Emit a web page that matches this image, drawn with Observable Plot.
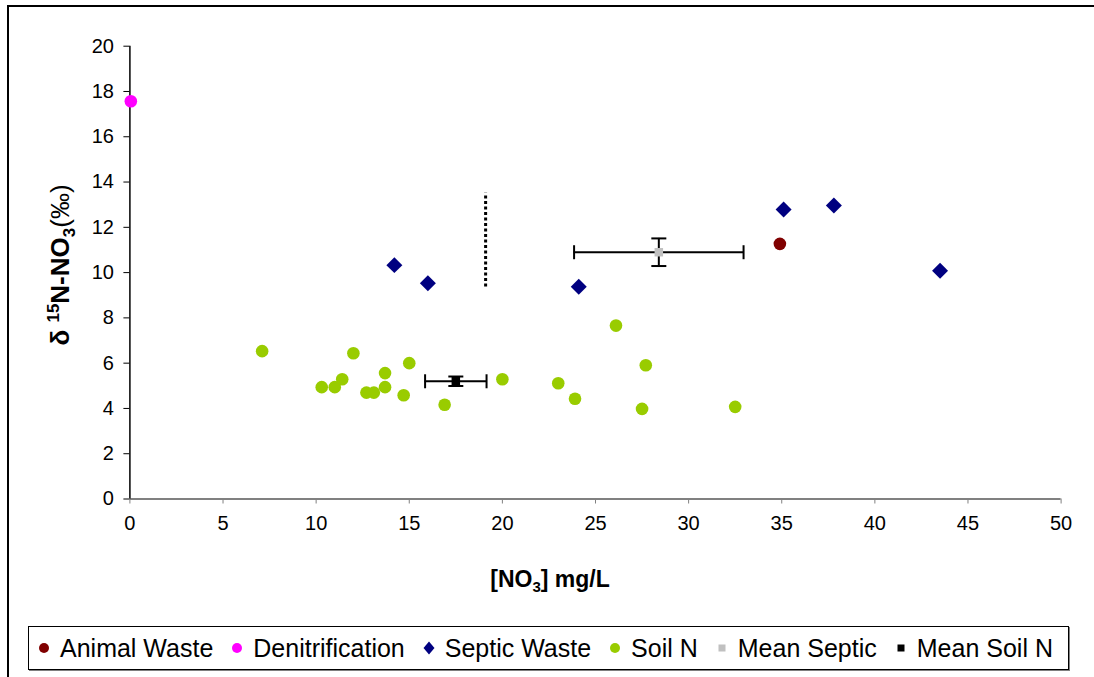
<!DOCTYPE html>
<html>
<head>
<meta charset="utf-8">
<script src="https://cdn.jsdelivr.net/npm/d3@7"></script>
<script src="https://cdn.jsdelivr.net/npm/@observablehq/plot@0.6"></script>
<style>
  html, body { margin: 0; padding: 0; background: #fff; overflow: hidden; }
  body { width: 1094px; height: 677px; position: relative; font-family: "Liberation Sans", Arial, sans-serif; }
  #frame { position: absolute; left: 7px; top: 5px; width: 1100px; height: 690px; border-left: 2px solid #000; border-top: 2px solid #000; }
  #chart { position: absolute; left: 0; top: 0; }
  #legend { position: absolute; left: 28px; top: 626px; width: 1041px; height: 44px; border: 1px solid #000; box-shadow: 1px 1px 0 #808080;
            display: flex; align-items: center; padding-left: 9px; box-sizing: border-box; font-size: 25px; color: #000; white-space: nowrap; }
  .item { display: flex; align-items: center; margin-right: 18px; }
  .item svg { margin-right: 10px; }
</style>
</head>
<body>
<div id="frame"></div>
<div id="chart"></div>
<div id="legend"></div>
<script>
// ---- data ----
const xTicks = [0, 5, 10, 15, 20, 25, 30, 35, 40, 45, 50];
const yTicks = [0, 2, 4, 6, 8, 10, 12, 14, 16, 18, 20];

const soilX = [7.1, 10.3, 11.0, 11.4, 12.0, 12.7, 13.1, 13.7, 13.7, 14.7, 15.0, 16.9, 20.0, 23.0, 23.9, 26.1, 27.7, 27.5, 32.5];
const soilY = [6.53, 4.94, 4.94, 5.29, 6.44, 4.70, 4.70, 5.56, 4.94, 4.58, 6.00, 4.16, 5.29, 5.11, 4.43, 7.66, 5.91, 3.98, 4.07];

const septicX = [14.2, 16.0, 24.1, 35.1, 37.8, 43.5];
const septicY = [10.33, 9.53, 9.37, 12.79, 12.96, 10.08];

const animalX = [34.9];
const animalY = [11.27];

const denitX = [0.05];
const denitY = [17.57];

const meanSepticX = [28.4], meanSepticY = [10.9], meanSepticXErr = [4.55], meanSepticYErr = [0.61];
const meanSoilX = [17.5], meanSoilY = [5.2], meanSoilXErr = [1.65], meanSoilYErr = [0.21];

const dividerX = [19.1], dividerY1 = [9.36], dividerY2 = [13.51];

const legendLabels = ["Animal Waste", "Denitrification", "Septic Waste", "Soil N", "Mean Septic", "Mean Soil N"];
const legendColors = ["#800000", "#ff00ff", "#000080", "#99cc00", "#c0c0c0", "#000000"];
const legendShapes = ["circle", "circle", "diamond", "circle", "square", "square"];

// ---- tables ----
const pts = (xs, ys) => xs.map((x, i) => ({x, y: ys[i]}));
const soil = pts(soilX, soilY);
const septic = pts(septicX, septicY);
const animal = pts(animalX, animalY);
const denit = pts(denitX, denitY);
const means = [
  ...meanSepticX.map((x, i) => ({x, y: meanSepticY[i], xe: meanSepticXErr[i], ye: meanSepticYErr[i], c: legendColors[4]})),
  ...meanSoilX.map((x, i) => ({x, y: meanSoilY[i], xe: meanSoilXErr[i], ye: meanSoilYErr[i], c: legendColors[5]}))
];
const divider = dividerX.map((x, i) => ({x, y1: dividerY1[i], y2: dividerY2[i]}));

const vbar = {draw(ctx) { ctx.moveTo(0, -7); ctx.lineTo(0, 7); }};
const hbar = {draw(ctx) { ctx.moveTo(-7.5, 0); ctx.lineTo(7.5, 0); }};

const W = 1094, H = 620;
const plot = Plot.plot({
  width: W, height: H,
  marginLeft: 129.4, marginRight: 33.4, marginTop: 45.7, marginBottom: H - 498.5,
  style: {fontFamily: '"Liberation Sans", Arial, sans-serif', background: "transparent", color: "#000", overflow: "visible"},
  x: {domain: [0, 50]},
  y: {domain: [0, 20]},
  marks: [
    Plot.axisX({ticks: xTicks, tickSize: 5, tickPadding: 12, label: null, fontSize: 20, stroke: "#808080", fill: "#000"}),
    Plot.axisY({ticks: yTicks, tickSize: 6, tickPadding: 10, label: null, fontSize: 20, stroke: "#000", fill: "#000"}),
    Plot.ruleY([0], {stroke: "#808080", strokeWidth: 2}),
    Plot.ruleX([0], {stroke: "#000", strokeWidth: 1.5}),
    Plot.ruleX(divider, {x: "x", y1: "y1", y2: "y2", stroke: "#000", strokeWidth: 3, strokeDasharray: "3,2.5"}),
    Plot.dot(soil, {x: "x", y: "y", r: 6.3, fill: legendColors[3]}),
    Plot.dot(septic, {x: "x", y: "y", r: 7.2, symbol: "diamond2", fill: legendColors[2]}),
    Plot.dot(animal, {x: "x", y: "y", r: 6.3, fill: legendColors[0]}),
    Plot.dot(denit, {x: "x", y: "y", r: 6.3, fill: legendColors[1]}),
    // error bars
    Plot.ruleY(means, {y: "y", x1: d => d.x - d.xe, x2: d => d.x + d.xe, stroke: "#000", strokeWidth: 2}),
    Plot.ruleX(means, {x: "x", y1: d => d.y - d.ye, y2: d => d.y + d.ye, stroke: "#000", strokeWidth: 2}),
    Plot.dot(means, {x: d => d.x - d.xe, y: "y", symbol: vbar, stroke: "#000", strokeWidth: 2, fill: "none"}),
    Plot.dot(means, {x: d => d.x + d.xe, y: "y", symbol: vbar, stroke: "#000", strokeWidth: 2, fill: "none"}),
    Plot.dot(means, {x: "x", y: d => d.y - d.ye, symbol: hbar, stroke: "#000", strokeWidth: 2, fill: "none"}),
    Plot.dot(means, {x: "x", y: d => d.y + d.ye, symbol: hbar, stroke: "#000", strokeWidth: 2, fill: "none"}),
    Plot.dot(means, {x: "x", y: "y", r: 4.8, symbol: "square", fill: "c"})
  ]
});
document.getElementById("chart").appendChild(plot);

// axis titles with super/subscripts
const svg = d3.select(plot);
const xt = svg.append("text")
  .attr("x", 550).attr("y", 587).attr("text-anchor", "middle")
  .attr("font-size", 23).attr("font-weight", "bold").attr("fill", "#000");
xt.append("tspan").text("[NO");
xt.append("tspan").attr("font-size", 15).attr("dy", 5).text("3");
xt.append("tspan").attr("dy", -5).text("] mg/L");

const yt = svg.append("text")
  .attr("transform", "translate(69,265) rotate(-90)").attr("text-anchor", "middle")
  .attr("font-size", 26).attr("font-weight", "bold").attr("fill", "#000");
yt.append("tspan").text("δ ");
yt.append("tspan").attr("font-size", 17).attr("dy", -10).text("15");
yt.append("tspan").attr("dy", 10).text("N-NO");
yt.append("tspan").attr("font-size", 17).attr("dy", 6).text("3");
yt.append("tspan").attr("dy", -6).attr("font-weight", "normal").text("(‰)");

// legend
const leg = d3.select("#legend");
legendLabels.forEach((lab, i) => {
  const it = leg.append("div").attr("class", "item");
  const s = it.append("svg").attr("width", 12).attr("height", 14);
  const shp = legendShapes[i];
  if (shp === "circle") s.append("circle").attr("cx", 6).attr("cy", 7).attr("r", 5).attr("fill", legendColors[i]);
  else if (shp === "diamond") s.append("path").attr("d", "M6,0.5L11.5,7L6,13.5L0.5,7Z").attr("fill", legendColors[i]);
  else s.append("rect").attr("x", 2.5).attr("y", 3.5).attr("width", 7).attr("height", 7).attr("fill", legendColors[i]);
  it.append("span").text(lab);
});
</script>
</body>
</html>
